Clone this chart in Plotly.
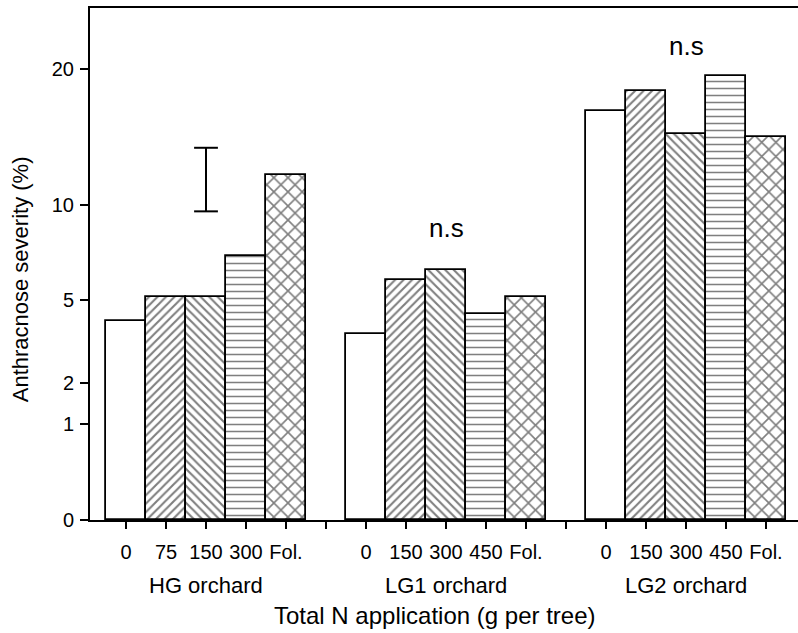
import plotly.graph_objects as go

# Anthracnose severity (%) per total N application, by orchard
orchards = ["HG orchard", "LG1 orchard", "LG2 orchard"]
dose_labels = [
    ["0", "75", "150", "300", "Fol."],
    ["0", "150", "300", "450", "Fol."],
    ["0", "150", "300", "450", "Fol."],
]
hg_severity = [4.1, 5.1, 5.1, 7.1, 11.9]
lg1_severity = [3.6, 5.9, 6.4, 4.4, 5.1]
lg2_severity = [16.6, 18.2, 14.8, 19.4, 14.6]
lsd_range = [9.6, 13.8]          # LSD bar drawn over the HG group
y_ticks = [0, 1, 2, 5, 10, 20]
y_max = 25.6

severity = [hg_severity, lg1_severity, lg2_severity]
patterns = ["", "/", "\\", "-", "x"]
pattern_sizes = [8, 6, 6, 7, 10]
pattern_solidity = [0.2, 0.35, 0.35, 0.22, 0.3]

POWER = 0.516


def scale(v):
    """Power-scale transform used for the y axis."""
    return v ** POWER


SLOTS = 6  # five bars plus one empty slot between orchards

fig = go.Figure()
for k in range(5):
    xs = [g * SLOTS + k for g in range(len(orchards))]
    ys = [scale(severity[g][k]) for g in range(len(orchards))]
    fig.add_trace(go.Bar(
        x=xs, y=ys, width=1.0,
        marker=dict(
            color="white",
            line=dict(color="black", width=1.8),
            pattern=dict(shape=patterns[k], fgcolor="black", bgcolor="white",
                         size=pattern_sizes[k], solidity=pattern_solidity[k],
                         fillmode="overlay"),
        ),
        showlegend=False, hoverinfo="skip",
    ))

# LSD bar
fig.add_trace(go.Scatter(
    x=[2, 2], y=[scale(v) for v in lsd_range], mode="lines+markers",
    line=dict(color="black", width=2),
    marker=dict(symbol="line-ew", size=17, line=dict(color="black", width=2)),
    showlegend=False, hoverinfo="skip",
))

n_slots = SLOTS * len(orchards) - 1
tickvals = list(range(n_slots))
ticktext = []
for g in range(len(orchards)):
    ticktext += dose_labels[g]
    if g < len(orchards) - 1:
        ticktext.append("")

font = "Liberation Sans, Arial, sans-serif"

fig.update_layout(
    width=798, height=633,
    margin=dict(l=90, r=0, t=8, b=113),
    plot_bgcolor="white", paper_bgcolor="white",
    bargap=0, barmode="overlay",
    font=dict(family=font, color="black", size=20),
    xaxis=dict(
        range=[-0.9, 16.8], tickvals=tickvals, ticktext=ticktext,
        ticks="outside", ticklen=7, tickwidth=2, tickcolor="black",
        showline=True, linecolor="black", linewidth=2, mirror=True,
        showgrid=False, zeroline=False, tickfont=dict(size=20),
        ticklabelstandoff=6,
    ),
    yaxis=dict(
        range=[0, scale(y_max)],
        tickvals=[scale(v) for v in y_ticks], ticktext=[str(v) for v in y_ticks],
        ticks="outside", ticklen=8, tickwidth=2, tickcolor="black",
        showline=True, linecolor="black", linewidth=2, mirror=False,
        showgrid=False, zeroline=False, tickfont=dict(size=20),
        ticklabelstandoff=2,
    ),
)

annotations = []
for g, name in enumerate(orchards):
    annotations.append(dict(
        x=g * SLOTS + 2, xref="x", y=-0.127, yref="paper",
        text=name, showarrow=False, font=dict(size=22), yanchor="middle",
    ))
annotations += [
    dict(x=8, xref="x", y=3.04, yref="y", text="n.s",
         showarrow=False, font=dict(size=26), yanchor="middle"),
    dict(x=14, xref="x", y=4.93, yref="y", text="n.s",
         showarrow=False, font=dict(size=26), yanchor="middle"),
    dict(x=0.487, xref="paper", y=-0.186, yref="paper",
         text="Total N application (g per tree)", showarrow=False,
         font=dict(size=24), yanchor="middle"),
    dict(x=-0.099, xref="paper", y=0.47, yref="paper",
         text="Anthracnose severity (%)", showarrow=False, textangle=-90,
         font=dict(size=22), xanchor="center", yanchor="middle"),
]
fig.update_layout(annotations=annotations)

fig.write_html("out.html")
